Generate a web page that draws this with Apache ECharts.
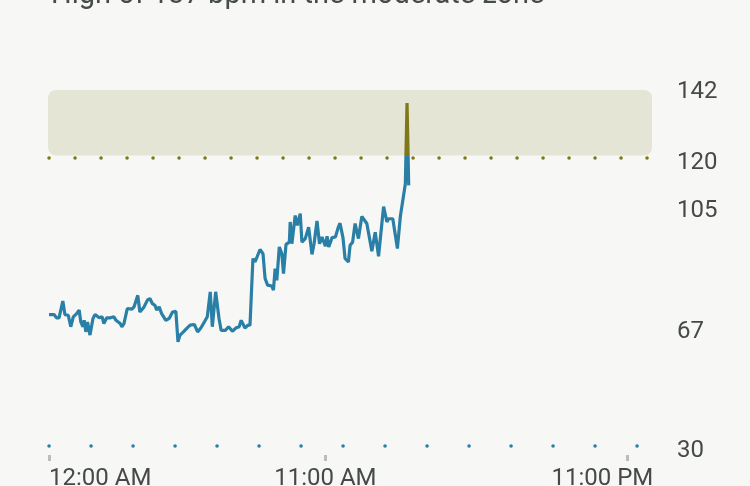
<!DOCTYPE html>
<html>
<head>
<meta charset="utf-8">
<script src="https://cdn.jsdelivr.net/npm/echarts@6/dist/echarts.min.js"></script>
<style>
html,body{margin:0;padding:0;background:#f7f8f5;}
#c{width:750px;height:486px;}
</style>
</head>
<body>
<div id="c"></div>
<script>
// minutes since midnight
const minutes = [0,12,18,24,33,38,46,52,58,66,72,76,81,84,88,92,98,105,110,120,127,131,138,147,155,160,170,174,179,187,198,203,212,217,227,235,241,247,253,257,263,269,279,287,295,303,308,313,321,329,337,347,355,363,371,378,385,390,398,406,411,421,429,438,446,454,459,468,475,480,487,492,504,511,516,522,532,536,540,544,550,556,560,566,574,576,580,588,593,600,604,612,620,628,633,640,646,652,660,664,668,676,684,691,695,702,707,715,719,725,731,739,747,759,771,779,787,799,807,811,821,832,839,851,855,859];
const bpm = [71,71,70,70,75.2,71,70.8,67.2,70.3,71.3,72.4,68.7,67.2,69.2,65.6,68.7,64.6,69.8,71,70,70.3,68.2,70,70,70.3,69.2,68.2,67.2,68.2,72.9,72.7,73.4,77,71.8,73.4,75.5,76,74.4,73.9,72.4,73.4,71.3,69.2,69.8,71.8,72,62.5,64.6,65.6,66.7,67.7,67.9,65.6,66.9,68.7,70.3,78.1,67.2,78.1,69.8,66.1,66.1,67.2,65.8,66.8,67.2,69.2,66.8,67.7,67.7,88.5,87.4,91.3,90,82.3,80.2,79.9,78.6,85.3,81.7,92.1,90,83.8,92.9,93.6,99.9,93.1,101.9,98.8,102.5,93.6,94.7,98.3,89.8,93.1,100.2,93.1,95.2,92.3,95.4,92.1,95,95.2,98.3,99.5,95,88.5,87.4,92.6,93.6,99.4,94.7,101.6,99.4,90.8,96.7,89.2,104.7,99.9,100.9,100.9,91.6,101.6,111.8,137,111.3];
const yTicks = [30, 67, 105, 120, 142];
const xTickMinutes = [0, 660, 1380];
const xTickLabels = ['12:00 AM', '11:00 AM', '11:00 PM'];
const zoneRange = [120, 142];
const restingLine = 30;
const titleText = 'High of 137 bpm in the moderate zone';

const BLUE = '#2a7fa7';
const OLIVE = '#7e7819';
const FONT = 'Roboto';
const LABEL_COLOR = '#454a48';

const chart = echarts.init(document.getElementById('c'));
const lineData = minutes.map((m, i) => [m, bpm[i]]);

// colour split at the zone threshold, relative to the line's own value range
const hi = Math.max.apply(null, bpm), lo = Math.min.apply(null, bpm);
const f = (hi - zoneRange[0]) / (hi - lo);
const lineColor = new echarts.graphic.LinearGradient(0, 0, 0, 1, [
  {offset: 0, color: OLIVE}, {offset: f, color: OLIVE},
  {offset: f, color: BLUE}, {offset: 1, color: BLUE}
]);

chart.setOption({
  backgroundColor: '#f7f8f5',
  animation: false,
  title: {
    text: titleText,
    left: 46,
    top: -24,
    textStyle: {fontFamily: FONT, fontSize: 29, fontWeight: 'normal', color: '#464c4a'}
  },
  grid: {left: 49, right: 98, top: 87, bottom: 40, containLabel: false, outerBoundsMode: 'none'},
  xAxis: {
    type: 'value', min: 0, max: 1440,
    offset: 9,
    axisLine: {show: false},
    splitLine: {show: false},
    axisTick: {show: true, customValues: xTickMinutes, length: 6, lineStyle: {color: '#bdbdbd', width: 3}},
    axisLabel: {
      customValues: xTickMinutes,
      margin: 12,
      alignMinLabel: 'left',
      fontFamily: FONT, fontSize: 24, color: LABEL_COLOR,
      formatter: function (v) {
        const i = xTickMinutes.indexOf(v);
        if (i === xTickMinutes.length - 1) return '{r|' + xTickLabels[i] + '}';
        return i >= 0 ? xTickLabels[i] : '';
      },
      rich: {r: {fontFamily: FONT, fontSize: 24, color: LABEL_COLOR, padding: [0, 49, 0, 0]}}
    }
  },
  yAxis: {
    type: 'value', min: 30, max: 142, position: 'right',
    axisLine: {show: false}, axisTick: {show: false}, splitLine: {show: false},
    axisLabel: {
      customValues: yTicks, margin: 25,
      formatter: function (v) { return '{a|' + v + '}'; },
      rich: {a: {fontFamily: FONT, fontSize: 24, color: LABEL_COLOR, padding: [10, 0, 0, 0]}}
    }
  },
  series: [
    {
      type: 'custom',
      silent: true,
      data: [[0, zoneRange[1], 1440, zoneRange[0]]],
      renderItem: function (params, api) {
        const p1 = api.coord([api.value(0), api.value(1)]);
        const p2 = api.coord([api.value(2), api.value(3)]);
        return {
          type: 'rect',
          shape: {x: p1[0] - 1, y: p1[1] + 3, width: p2[0] - p1[0] + 1, height: p2[1] - p1[1] - 5, r: 8},
          style: {fill: '#e4e5d4'}
        };
      },
      z: 1
    },
    {
      type: 'line',
      data: lineData,
      showSymbol: false,
      lineStyle: {width: 3.2, color: lineColor},
      itemStyle: {color: BLUE},
      z: 5,
      markLine: {
        silent: true, symbol: 'none', label: {show: false},
        data: [
          {yAxis: zoneRange[0], lineStyle: {color: OLIVE, width: 3.5, type: [0.1, 25.9], cap: 'round'}},
          {yAxis: restingLine, lineStyle: {color: BLUE, width: 3.5, type: [0.1, 41.9], cap: 'round'}}
        ]
      }
    }
  ]
});
</script>
</body>
</html>
